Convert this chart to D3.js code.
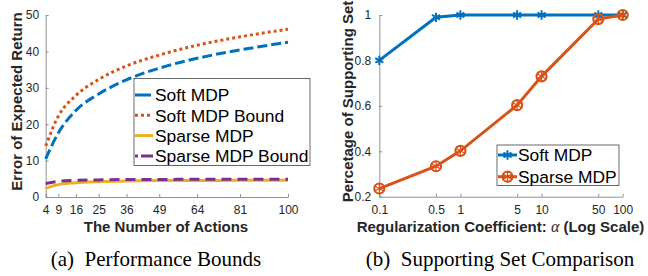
<!DOCTYPE html>
<html>
<head>
<meta charset="utf-8">
<script src="https://cdn.jsdelivr.net/npm/d3@7"></script>
<style>
  body { margin: 0; background: #fff; }
  svg { display: block; }
  .tick text { font-family: "Liberation Sans", Arial, sans-serif; font-size: 12px; fill: #262626; }
  .axis path, .axis line { stroke: #777; stroke-width: 0.8; }
  .axis-label { font-family: "Liberation Sans", Arial, sans-serif; font-size: 15px; font-weight: bold; fill: #262626; }
  .caption { font-family: "Liberation Serif", "Times New Roman", serif; font-size: 21px; fill: #000; }
  .legend text { font-family: "Liberation Sans", Arial, sans-serif; fill: #000; }
</style>
</head>
<body>
<svg width="648" height="276"></svg>
<script>
// (a) performance bounds
const actions = [4, 9, 16, 25, 36, 49, 64, 81, 100];
const softMDP = [10.5, 17.6, 23.8, 28.3, 32.2, 35.4, 38.1, 40.4, 42.5];
const softBound = [14.0, 22.2, 27.9, 32.3, 36.0, 39.0, 41.7, 44.0, 46.1];
const sparseMDP = [2.4, 3.4, 3.9, 4.2, 4.4, 4.5, 4.5, 4.6, 4.6];
const sparseBound = [3.7, 4.3, 4.6, 4.7, 4.8, 4.8, 4.9, 4.9, 4.9];
const yTicksA = [0, 10, 20, 30, 40, 50];

// (b) supporting set comparison
const alphas = [0.1, 0.5, 1, 5, 10, 50, 100];
const softSupport = [0.80, 0.99, 1.0, 1.0, 1.0, 1.0, 1.0];
const sparseSupport = [0.236, 0.334, 0.402, 0.603, 0.73, 0.982, 1.0];
const yTicksB = [0.2, 0.4, 0.6, 0.8, 1];

const blue = "#0072BD", orange = "#D95319", yellow = "#EDB120", purple = "#7E2F8E";

const svg = d3.select("svg");

// ---------- left panel ----------
const xA = d3.scaleLinear().domain([4, 100]).range([45.7, 288]);
const yA = d3.scaleLinear().domain([0, 50]).range([197, 15]);

svg.append("g").attr("class", "axis")
  .attr("transform", `translate(0,${yA(0)})`)
  .call(d3.axisBottom(xA).tickValues(actions).tickSizeInner(-3).tickSizeOuter(0).tickPadding(8.5));
svg.append("g").attr("class", "axis")
  .attr("transform", `translate(${xA(4)},0)`)
  .call(d3.axisLeft(yA).tickValues(yTicksA).tickSizeInner(-3).tickSizeOuter(0).tickPadding(6.5));

const seriesA = [
  {name: "Soft MDP", values: softMDP, color: blue, dash: "10,4"},
  {name: "Soft MDP Bound", values: softBound, color: orange, dash: "3,3"},
  {name: "Sparse MDP", values: sparseMDP, color: yellow, dash: null},
  {name: "Sparse MDP Bound", values: sparseBound, color: purple, dash: "10,6"}
];

const lineA = d3.line()
  .x((d, i) => xA(actions[i]))
  .y(d => yA(d))
  .curve(d3.curveMonotoneX);

// draw sparse first so the bound sits on top like the original
[2, 3, 0, 1].forEach(k => {
  const s = seriesA[k];
  svg.append("path")
    .attr("d", lineA(s.values))
    .attr("fill", "none")
    .attr("stroke", s.color)
    .attr("stroke-width", 3)
    .attr("stroke-dasharray", s.dash);
});

svg.append("text").attr("class", "axis-label")
  .attr("x", 166).attr("y", 231.5).attr("text-anchor", "middle")
  .text("The Number of Actions");
svg.append("text").attr("class", "axis-label")
  .attr("transform", "translate(21.5,101.5) rotate(-90)")
  .attr("text-anchor", "middle")
  .text("Error of Expected Return");

const legA = svg.append("g").attr("class", "legend");
legA.append("rect")
  .attr("x", 134).attr("y", 78.5).attr("width", 176).attr("height", 87)
  .attr("fill", "#fff").attr("stroke", "#444").attr("stroke-width", 0.8);
seriesA.forEach((s, i) => {
  const cy = 95 + i * 20.3;
  legA.append("line")
    .attr("x1", 135).attr("x2", 153).attr("y1", cy).attr("y2", cy)
    .attr("stroke", s.color).attr("stroke-width", 3)
    .attr("stroke-dasharray", s.dash === "10,6" ? "3,3,12" : s.dash === "10,4" ? "16" : s.dash);
  legA.append("text")
    .attr("x", 155).attr("y", cy + 6.2)
    .style("font-size", "17.4px")
    .text(s.name);
});

svg.append("text").attr("class", "caption")
  .attr("x", 156).attr("y", 266).attr("text-anchor", "middle")
  .attr("xml:space", "preserve")
  .text("(a)  Performance Bounds");

// ---------- right panel ----------
const xB = d3.scaleLog().domain([0.1, 100]).range([379.3, 622.7]);
const yB = d3.scaleLinear().domain([0.2, 1]).range([196.7, 15]);

svg.append("g").attr("class", "axis")
  .attr("transform", `translate(0,${yB(0.2)})`)
  .call(d3.axisBottom(xB).tickValues(alphas).tickFormat(d => String(d))
    .tickSizeInner(-3).tickSizeOuter(0).tickPadding(8.5));
svg.append("g").attr("class", "axis")
  .attr("transform", `translate(${xB(0.1)},0)`)
  .call(d3.axisLeft(yB).tickValues(yTicksB).tickFormat(d => String(d))
    .tickSizeInner(-3).tickSizeOuter(0).tickPadding(8));

const lineB = d3.line()
  .x((d, i) => xB(alphas[i]))
  .y(d => yB(d));

const star = d3.symbol().type(d3.symbolAsterisk).size(60);
const bigStar = d3.symbol().type(d3.symbolAsterisk).size(90);

function drawMarker(g, kind, x, y) {
  if (kind === "soft") {
    g.append("path").attr("d", star())
      .attr("transform", `translate(${x},${y})`)
      .attr("fill", "none").attr("stroke", blue).attr("stroke-width", 2);
  } else {
    g.append("circle").attr("cx", x).attr("cy", y).attr("r", 5)
      .attr("fill", "none").attr("stroke", orange).attr("stroke-width", 2.2);
    g.append("path").attr("d", bigStar())
      .attr("transform", `translate(${x},${y})`)
      .attr("fill", "none").attr("stroke", orange).attr("stroke-width", 1.2);
  }
}

svg.append("path").attr("d", lineB(softSupport))
  .attr("fill", "none").attr("stroke", blue).attr("stroke-width", 3);
const softPts = svg.append("g");
softSupport.forEach((v, i) => drawMarker(softPts, "soft", xB(alphas[i]), yB(v)));

svg.append("path").attr("d", lineB(sparseSupport))
  .attr("fill", "none").attr("stroke", orange).attr("stroke-width", 3);
const sparsePts = svg.append("g");
sparseSupport.forEach((v, i) => drawMarker(sparsePts, "sparse", xB(alphas[i]), yB(v)));

const xLab = svg.append("text").attr("class", "axis-label")
  .attr("x", 500.5).attr("y", 231.5).attr("text-anchor", "middle");
xLab.append("tspan").text("Regularization Coefficient: ");
xLab.append("tspan")
  .style("font-family", "'Liberation Serif', 'Times New Roman', serif")
  .style("font-style", "italic").style("font-weight", "normal").style("font-size", "16px")
  .text("α");
xLab.append("tspan").text(" (Log Scale)");

svg.append("text").attr("class", "axis-label")
  .attr("transform", "translate(352.5,101.5) rotate(-90)")
  .attr("text-anchor", "middle")
  .text("Percetage of Supporting Set");

const legB = svg.append("g").attr("class", "legend");
legB.append("rect")
  .attr("x", 497).attr("y", 145).attr("width", 122).attr("height", 40.5)
  .attr("fill", "#fff").attr("stroke", "#444").attr("stroke-width", 0.8);
[["Soft MDP", blue, "soft"], ["Sparse MDP", orange, "sparse"]].forEach(([name, c, kind], i) => {
  const cy = 155 + i * 21.7;
  legB.append("line")
    .attr("x1", 498).attr("x2", 517).attr("y1", cy).attr("y2", cy)
    .attr("stroke", c).attr("stroke-width", 3);
  drawMarker(legB, kind, 507.5, cy);
  legB.append("text")
    .attr("x", 518).attr("y", cy + 6.2)
    .style("font-size", "17.4px")
    .text(name);
});

svg.append("text").attr("class", "caption")
  .attr("x", 500).attr("y", 266).attr("text-anchor", "middle")
  .attr("xml:space", "preserve")
  .text("(b)  Supporting Set Comparison");
</script>
</body>
</html>
